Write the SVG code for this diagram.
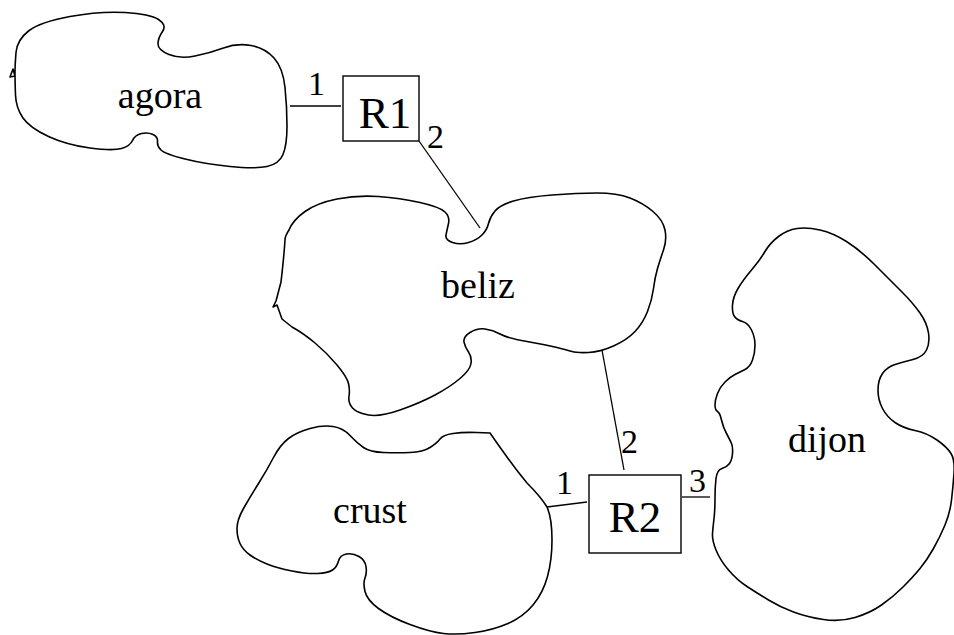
<svg xmlns="http://www.w3.org/2000/svg" width="954" height="635" viewBox="0 0 954 635">
<defs>
<path id="agoraShape" d="M16,52.5 Q17,40 28.5,31 Q40,22 70,16.5 Q100,11 125,12.5 Q150,14 158.5,19.5 Q167,25 162.5,31.5 Q158,38 158,44 Q158,50 169,54.5 Q180,59 195,56 Q210,53 223.5,48 Q237,43 251,45.5 Q265,48 274,58 Q283,68 285,87.5 Q287,107 287,126 Q287,145 283,154.5 Q279,164 267,166.5 Q255,169 230,166.5 Q205,164 185,159 Q165,154 161,150 Q157,146 157.5,141.5 Q158,137 153,134.5 Q148,132 141.5,133.5 Q135,135 132.5,140.5 Q130,146 121.5,148.5 Q113,151 90,148 Q67,145 48.5,136.5 Q30,128 23,118 Q16,108 15.5,95 Q15,82 15,73.5 Q15,65 16,52.5 Z M13,69 L10,77 L15,76 Z"/>
</defs>
<rect width="954" height="635" fill="#fff"/>
<g id="connectors" stroke="#000" stroke-width="1.3" fill="none">
<line x1="290" y1="106" x2="341" y2="106"/>
<line x1="419" y1="141" x2="480" y2="228"/>
<line x1="602" y1="350" x2="624" y2="470"/>
<line x1="547" y1="507" x2="587" y2="502"/>
<line x1="682" y1="497" x2="710" y2="497"/>
</g>
<g id="port-labels">
<text font-family="Liberation Serif" font-size="34" x="308" y="95">1</text>
<text font-family="Liberation Serif" font-size="34" x="427" y="148">2</text>
<text font-family="Liberation Serif" font-size="34" x="556" y="494">1</text>
<text font-family="Liberation Serif" font-size="34" x="621" y="453">2</text>
<text font-family="Liberation Serif" font-size="34" x="689" y="492">3</text>
</g>
<g id="agora">
<use href="#agoraShape" fill="none" stroke="#000" stroke-width="1.6" stroke-linejoin="round"/>
<text font-family="Liberation Serif" font-size="38" text-anchor="middle" x="160" y="108">agora</text>
</g>
<g id="beliz">
<path fill="none" stroke="#000" stroke-width="1.6" stroke-linejoin="round" d="M289,230 Q293,220 305,211.5 Q317,203 337,199 Q357,195 378.5,196.5 Q400,198 420,202.5 Q440,207 445,212 Q450,217 448.5,223.5 Q447,230 446,235 Q445,240 452.5,242.5 Q460,245 468.5,242.5 Q477,240 482,235 Q487,230 488.5,223.5 Q490,217 495,211 Q500,205 513.5,201 Q527,197 552,195 Q577,193 597,193 Q617,193 630,198 Q643,203 653,211.5 Q663,220 665,230 Q667,240 663.5,250 Q660,260 657.5,268.5 Q655,277 653.5,288.5 Q652,300 647.5,311.5 Q643,323 635,331.5 Q627,340 613.5,346 Q600,352 588.5,352.5 Q577,353 572,351.5 Q567,350 557,347.5 Q547,345 527,341.5 Q507,338 500,334 Q493,330 485,329 Q477,328 470,332.5 Q463,337 464,342 Q465,347 468.5,352 Q472,357 471,363.5 Q470,370 460,378.5 Q450,387 435,395 Q420,403 400,410 Q380,417 368.5,415 Q357,413 352.5,408 Q348,403 349,396.5 Q350,390 348.5,383.5 Q347,377 337,365 Q327,353 315,343 Q303,333 292,327 L282,319 L277,305 L273,307 L276,301 L281,282 Q284,256 285,240 Q285,236 289,230 Z"/>
<text font-family="Liberation Serif" font-size="38" text-anchor="middle" x="478" y="298">beliz</text>
</g>
<g id="crust">
<path fill="none" stroke="#000" stroke-width="1.6" stroke-linejoin="round" d="M237,528.5 Q237,520 243.5,508.5 Q250,497 258.5,483.5 Q267,470 273.5,457.5 Q280,445 288.5,438.5 Q297,432 310,428.5 Q323,425 333,426.5 Q343,428 350,435.5 Q357,443 363.5,447.5 Q370,452 383.5,452.5 Q397,453 410,452.5 Q423,452 430,447.5 Q437,443 440,439 Q443,435 453,433.5 Q463,432 476.5,432.5 L490,433 Q499,446 507,457 Q517,471 527,483 Q541,497 547,507 Q552,518 552,540 Q552,560 547.5,576.5 Q543,593 533,605 Q523,617 508,623.5 Q493,630 475,632.5 Q457,635 443.5,633.5 Q430,632 410,624.5 Q390,617 378.5,608.5 Q367,600 365,591.5 Q363,583 365,578 Q367,573 366,566.5 Q365,560 359,556.5 Q353,553 346.5,554 Q340,555 338.5,561 Q337,567 332.5,570 Q328,573 317.5,573.5 Q307,574 292,571 Q277,568 267,564 Q257,560 250,555 Q243,550 240,543.5 Q237,537 237,528.5 Z"/>
<text font-family="Liberation Serif" font-size="38" text-anchor="middle" x="370" y="523">crust</text>
</g>
<g id="dijon">
<path fill="none" stroke="#000" stroke-width="1.6" stroke-linejoin="round" d="M712.5,533.5 Q713,527 714,518.5 Q715,510 715,498.5 Q715,487 716,478.5 Q717,470 722,468.5 Q727,467 729.5,463.5 Q732,460 732.5,453.5 Q733,447 731.5,443.5 Q730,440 726.5,433.5 Q723,427 721.5,420 Q720,413 717.5,411.5 Q715,410 715,405 Q715,400 717.5,393.5 Q720,387 725,382 Q730,377 735,374.5 Q740,372 745,369.5 Q750,367 752.5,360 Q755,353 755,345 Q755,337 751.5,330 Q748,323 742.5,321.5 Q737,320 734.5,316.5 Q732,313 732.5,305 Q733,297 738,288.5 Q743,280 751.5,270 Q760,260 765,251.5 Q770,243 778.5,236.5 Q787,230 797,228.5 Q807,227 820,230 Q833,233 846.5,241.5 Q860,250 875,265 Q890,280 901.5,291.5 Q913,303 920,313 Q927,323 928.5,333 Q930,343 926.5,350 Q923,357 913,359.5 Q903,362 895,364.5 Q887,367 882.5,373.5 Q878,380 878,390 Q878,400 882.5,408.5 Q887,417 895,422.5 Q903,428 915,430.5 Q927,433 937,440 Q947,447 951,453.5 Q955,460 954,473.5 Q953,487 951.5,500 Q950,513 945,525 Q940,537 933.5,548.5 Q927,560 920,568.5 Q913,577 903,587 Q893,597 881.5,605 Q870,613 855,617.5 Q840,622 823.5,619.5 Q807,617 793.5,612 Q780,607 768.5,600 Q757,593 747,586.5 Q737,580 728.5,570 Q720,560 716,550 Q712,540 712.5,533.5 Z"/>
<text font-family="Liberation Serif" font-size="38" text-anchor="middle" x="827" y="452">dijon</text>
</g>
<g id="R1">
<rect x="343" y="76" width="76" height="65" fill="#fff" stroke="#000" stroke-width="1.4"/>
<text font-family="Liberation Serif" font-size="45" text-anchor="middle" x="385" y="128">R1</text>
</g>
<g id="R2">
<rect x="589" y="475" width="92" height="78" fill="#fff" stroke="#000" stroke-width="1.4"/>
<text font-family="Liberation Serif" font-size="45" text-anchor="middle" x="635" y="532">R2</text>
</g>
</svg>
